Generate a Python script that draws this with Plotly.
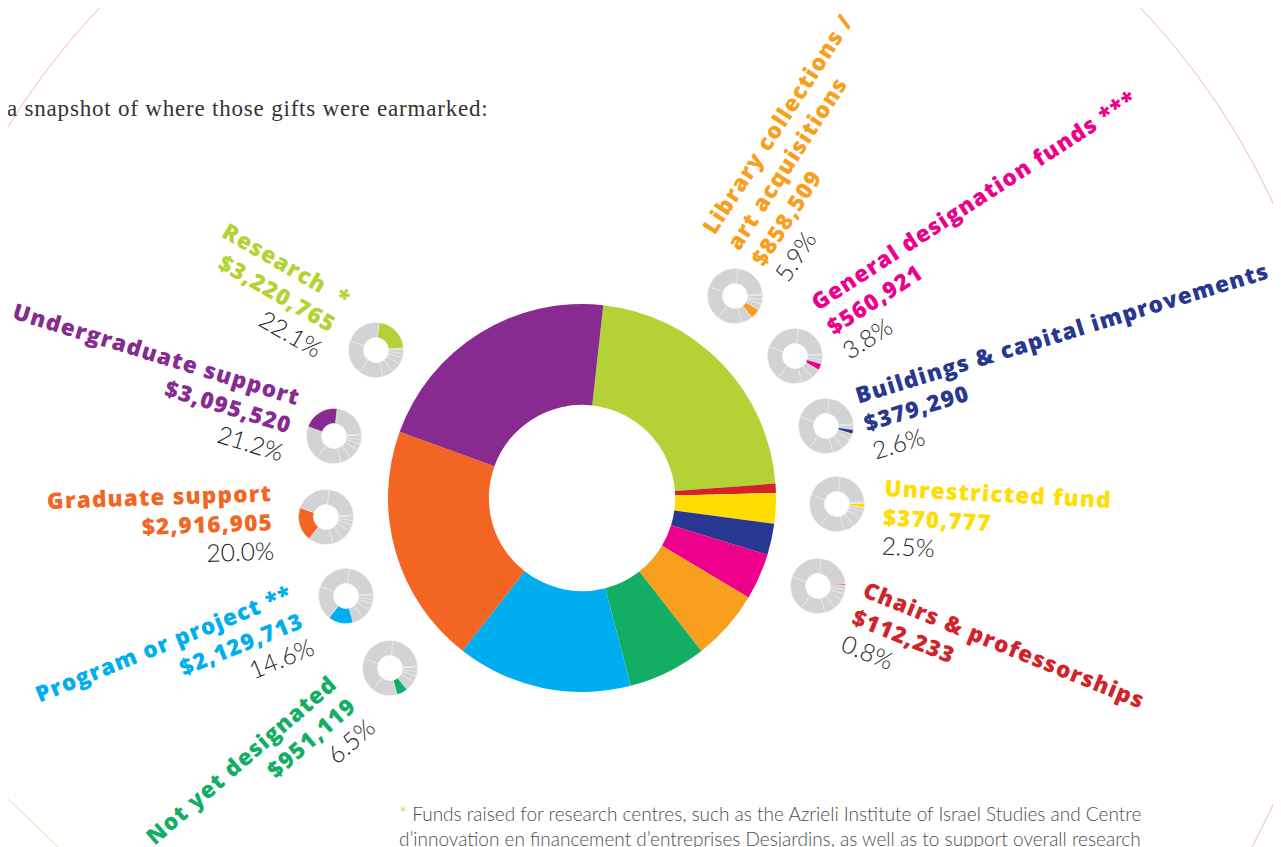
import plotly.graph_objects as go

W, H = 1281, 847
OFF = 8  # page body margin offset in the screenshot

# ---------------- data ----------------
categories = [
    "Research", "Chairs & professorships", "Unrestricted fund",
    "Buildings & capital improvements", "General designation funds",
    "Library collections / art acquisitions", "Not yet designated",
    "Program or project", "Graduate support", "Undergraduate support",
]
amounts = [3220765, 112233, 370777, 379290, 560921, 858509, 951119,
           2129713, 2916905, 3095520]
percents = ["22.1%", "0.8%", "2.5%", "2.6%", "3.8%", "5.9%", "6.5%",
            "14.6%", "20.0%", "21.2%"]
label_lines = [
    ["Research&nbsp;&nbsp;*"],
    ["Chairs &amp; professorships"],
    ["Unrestricted fund"],
    ["Buildings &amp; capital improvements"],
    ["General designation funds&nbsp;***"],
    ["Library collections /", "art acquisitions"],
    ["Not yet designated"],
    ["Program or project&nbsp;**"],
    ["Graduate support"],
    ["Undergraduate support"],
]
intro_text = "a snapshot of where those gifts were earmarked:"
footnote_lines = [
    "Funds raised for research centres, such as the Azrieli Institute of Israel Studies and Centre",
    "d’innovation en financement d’entreprises Desjardins, as well as to support overall research",
]

# ---------------- styles ----------------
colors = ["#b2d235", "#d2232a", "#ffdd00", "#283891", "#ec008c",
          "#f8a01e", "#13ae63", "#00aeef", "#f26522", "#872b90"]
GREY = "#d1d3d4"
ROT = 6.3

# small donut centres (px) and label blocks (centre px, angle, align)
small_centers = [(376, 350), (818, 586), (837, 504), (826, 426), (795, 356),
                 (735, 296), (390, 668), (346, 596), (326, 517), (334, 436)]
label_pos = [
    (272, 289, 30, "right"),
    (993, 671, 22, "left"),
    (996, 522, 3, "left"),
    (1070, 360, -17, "left"),
    (989, 224, -33, "left"),
    (813, 147, -57, "left"),
    (260, 781, -41, "right"),
    (174, 670, -22, "right"),
    (160, 525, -2, "right"),
    (148, 381, 17, "right"),
]


def px(x):
    return (x - OFF) / W


def py(y):
    return 1 - (y - OFF) / H


fig = go.Figure()


def dom(cx, cy, r):
    return dict(x=[px(cx - r), px(cx + r)], y=[py(cy + r), py(cy - r)])


# main donut
fig.add_trace(go.Pie(
    labels=categories, values=amounts, sort=False, direction="clockwise",
    rotation=ROT, hole=0.48, textinfo="none", hoverinfo="label+value",
    marker=dict(colors=colors, line=dict(width=0)),
    domain=dom(582, 498, 194), showlegend=False,
))

# small donuts
for i, (cx, cy) in enumerate(small_centers):
    cols = [colors[j] if j == i else GREY for j in range(len(categories))]
    fig.add_trace(go.Pie(
        labels=categories, values=amounts, sort=False, direction="clockwise",
        rotation=ROT, hole=0.46, textinfo="none", hoverinfo="label+value",
        marker=dict(colors=cols, line=dict(width=0.4, color="#f4f4f4")),
        domain=dom(cx, cy, 27.5), showlegend=False,
    ))

annotations = []
for i in range(len(categories)):
    cx, cy, ang, align = label_pos[i]
    lines = label_lines[i] + [f"${amounts[i]:,}"]
    parts = [f'<span style="letter-spacing:1.2px">{l}</span>' for l in lines]
    parts.append(
        f'<span style="font-family:Lato;font-weight:300;font-size:24.5px;color:#231f20">{percents[i]}</span>')
    annotations.append(dict(
        x=px(cx), y=py(cy), xref="paper", yref="paper",
        xanchor="center", yanchor="middle", showarrow=False,
        text="<br>".join(parts), textangle=ang, align=align,
        font=dict(family="Open Sans", size=22.5, color=colors[i], weight=800),
    ))

annotations.append(dict(
    x=px(5), y=py(108), xref="paper", yref="paper", xanchor="left",
    yanchor="middle", showarrow=False,
    text=f'<span style="letter-spacing:0.8px">{intro_text}</span>',
    font=dict(family="Liberation Serif", size=23, color="#333333"),
))
annotations.append(dict(
    x=px(397), y=py(800), xref="paper", yref="paper", xanchor="left",
    yanchor="top", showarrow=False, align="left",
    text='<span style="color:#b2d235">*</span> ' + footnote_lines[0] + "<br>" + footnote_lines[1],
    font=dict(family="Lato", size=19, color="#4d4d4d", weight=300),
))

shapes = [
    dict(type="circle", xref="paper", yref="paper",
         x0=px(620 - 719), x1=px(620 + 719),
         y0=py(504 + 719), y1=py(504 - 719),
         line=dict(color="#f6b8b8", width=1), layer="below"),
    dict(type="path", xref="paper", yref="paper",
         path=f"M {px(-5)},{py(787)} Q {px(25)},{py(815)} {px(62)},{py(851)}",
         line=dict(color="#cfe09a", width=1), layer="below"),
]

fig.update_layout(
    width=W, height=H, margin=dict(l=0, r=0, t=0, b=0),
    paper_bgcolor="white", plot_bgcolor="white",
    annotations=annotations, shapes=shapes,
)

fig.write_html("out.html")
